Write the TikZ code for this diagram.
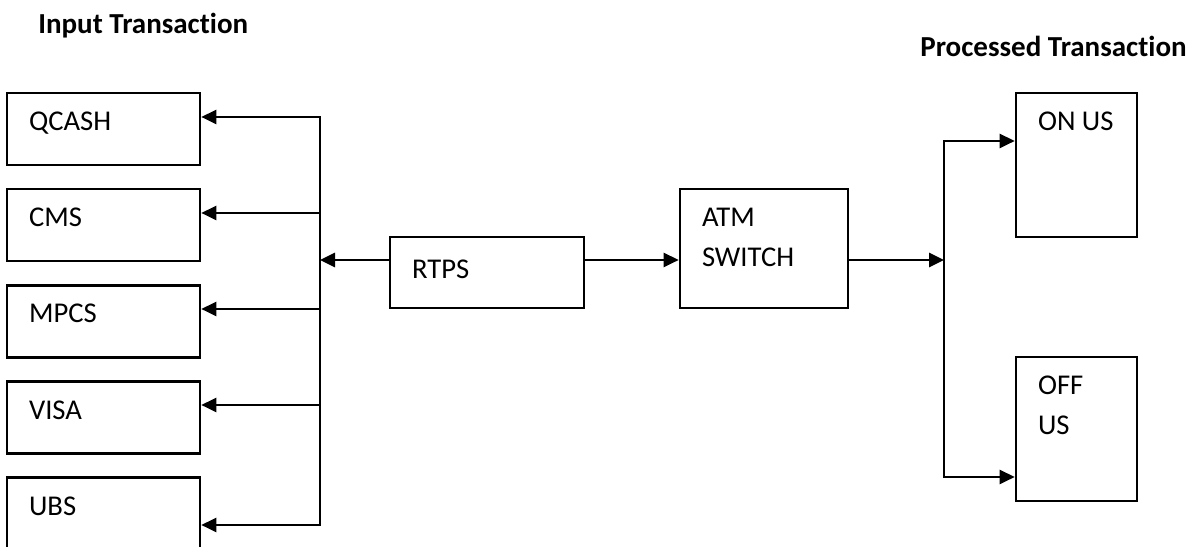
\documentclass[tikz,border=0pt]{standalone}
\usepackage{fontspec}
\setmainfont{Carlito}[Ligatures=NoCommon]
\usetikzlibrary{positioning,arrows.meta,calc}

\begin{document}
\begin{tikzpicture}[
    src/.style={rectangle, draw=black, line width=1.5pt,
                minimum width=3.86cm, minimum height=1.44cm, inner sep=0pt},
    blk/.style={rectangle, draw=black, line width=1.5pt, inner sep=0pt},
    txt/.style={anchor=north west, inner sep=0pt, xshift=0.46cm, yshift=-0.40cm,
                align=left, font=\fontsize{16.3}{22.7}\selectfont},
    ttl/.style={font=\bfseries\fontsize{16.5}{18}\selectfont, inner sep=0pt},
    ar/.style={-{Triangle[length=3mm, width=2.8mm]}, line width=1.5pt}
]
    \useasboundingbox (0,0) rectangle (23.86,10.94);
    \clip (0,0) rectangle (23.86,10.94);

    % headings
    \node[ttl, anchor=base west] (inhead) at (0.76,10.26) {Input Transaction};
    \node[ttl, anchor=base east] (outhead) at (23.74,9.80) {Processed Transaction};

    % source systems, stacked on the left
    \node[src, label={[txt]north west:QCASH}] (qcash) at (2.07,8.36) {};
    \node[src, below=0.43cm of qcash, label={[txt]north west:CMS}] (cms) {};
    \node[src, below=0.43cm of cms, label={[txt]north west:MPCS}] (mpcs) {};
    \node[src, below=0.43cm of mpcs, label={[txt]north west:VISA}] (visa) {};
    \node[src, below=0.43cm of visa, label={[txt]north west:UBS}] (ubs) {};

    % middle blocks
    \node[blk, minimum width=3.88cm, minimum height=1.42cm,
          label={[txt, yshift=-0.08cm]north west:RTPS}] (rtps) at (9.74,5.49) {};
    \node[blk, minimum width=3.36cm, minimum height=2.38cm,
          label={[txt]north west:ATM\\SWITCH}] (atm) at (15.28,5.97) {};

    % results on the right
    \node[blk, minimum width=2.42cm, minimum height=2.88cm,
          label={[txt]north west:ON US}] (onus) at (21.53,7.64) {};
    \node[blk, minimum width=2.42cm, minimum height=2.88cm,
          label={[txt]north west:OFF\\US}] (offus) at (21.53,2.36) {};

    % left bus
    \coordinate (lq) at (6.40,8.60);
    \coordinate (lc) at (6.40,6.68);
    \coordinate (lr) at (6.40,5.74);
    \coordinate (lm) at (6.40,4.76);
    \coordinate (lv) at (6.40,2.84);
    \coordinate (lu) at (6.40,0.44);
    % right bus
    \coordinate (ron) at (18.88,8.12);
    \coordinate (rmid) at (18.88,5.74);
    \coordinate (roff) at (18.88,1.40);

    \draw[ar] (lu) -- (lq) -- (lq -| qcash.east);
    \draw[ar] (lq) -- (lu) -- (lu -| ubs.east);
    \draw[ar] (lc) -- (lc -| cms.east);
    \draw[ar] (lm) -- (lm -| mpcs.east);
    \draw[ar] (lv) -- (lv -| visa.east);

    \draw[ar] (rtps.west |- lr) -- (lr);
    \draw[ar] (rtps.east |- lr) -- (atm.west |- lr);
    \draw[ar] (atm.east |- rmid) -- (rmid);

    \draw[ar] (roff) -- (ron) -- (ron -| onus.west);
    \draw[ar] (ron) -- (roff) -- (roff -| offus.west);
\end{tikzpicture}
\end{document}
